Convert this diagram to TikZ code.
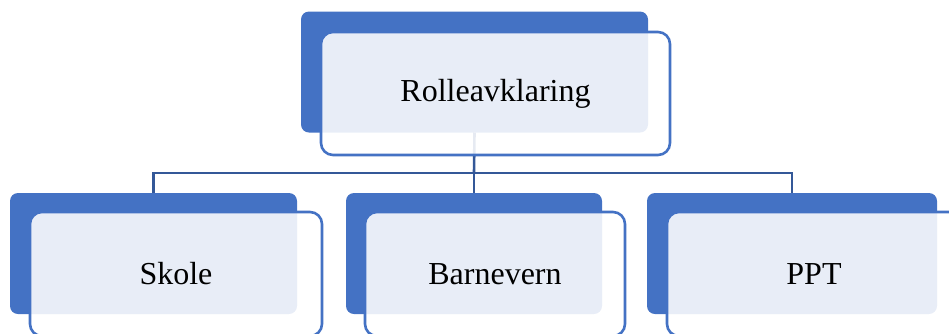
\documentclass[tikz,border=0pt]{standalone}
\usepackage{fontspec}
\setmainfont{Liberation Serif}
\definecolor{accent}{RGB}{68,114,196}
\definecolor{linkblue}{RGB}{52,88,152}
\tikzset{
  backbox/.style={rectangle, rounded corners=8pt, fill=accent, inner sep=0pt, outer sep=0pt,
    minimum height=121pt},
  frontbox/.style={rectangle, rounded corners=12pt, draw=accent, line width=2.6pt,
    fill=white, fill opacity=0.88, text opacity=1, inner sep=0pt, outer sep=0pt,
    minimum height=124pt, font=\fontsize{32}{38}\selectfont},
  conn/.style={draw=linkblue, line width=2.6pt}
}
\begin{document}
\begin{tikzpicture}[x=1pt, y=-1pt]
  \useasboundingbox (0,0) rectangle (949,333);
  \clip (0,0) rectangle (949,333);

  % back plates
  \node[backbox, minimum width=347pt] (topback)   at (474.5, 72) {};
  \node[backbox, minimum width=287pt] (skoleback) at (153.5, 253.5) {};
  \node[backbox, minimum width=256pt] (barneback) at (474, 253.5) {};
  \node[backbox, minimum width=290pt] (pptback)   at (792, 253.5) {};

  % connectors
  \coordinate (hub) at (474, 173);
  \draw[conn] (topback.south) -- (hub);
  \draw[conn] (skoleback.north) |- (hub) -| (pptback.north);
  \draw[conn] (hub) -- (barneback.north);

  % front boxes with labels
  \node[frontbox, minimum width=349pt, minimum height=123pt] (top) at (495.5, 93.5) {Rolleavklaring};
  \node[frontbox, minimum width=292pt] (skole) at (176, 274) {Skole};
  \node[frontbox, minimum width=260pt] (barne) at (495, 274) {Barnevern};
  \node[frontbox, minimum width=294pt] (ppt)   at (814, 274) {PPT};
\end{tikzpicture}
\end{document}
